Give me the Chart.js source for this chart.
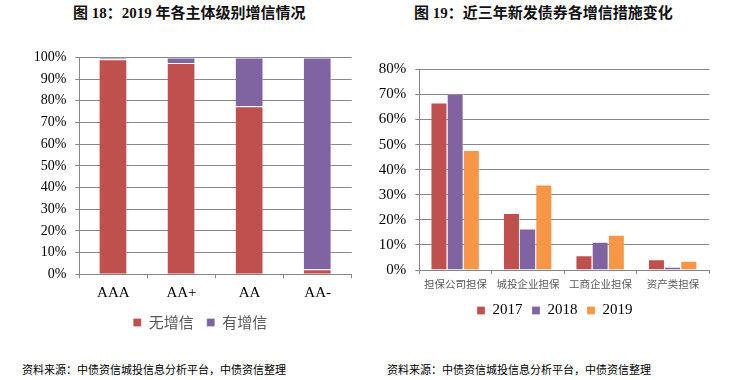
<!DOCTYPE html>
<html><head><meta charset="utf-8">
<script src="https://cdn.jsdelivr.net/npm/chart.js@4"></script>
<style>
html,body{margin:0;padding:0;background:#fff;}
body{width:740px;height:380px;position:relative;overflow:hidden;}
.t{position:absolute;font-family:"Liberation Serif","Noto Sans CJK SC",serif;font-weight:bold;font-size:15px;color:#111;line-height:18px;white-space:nowrap;}
.s{position:absolute;font-family:"Noto Sans CJK SC",sans-serif;font-size:11px;color:#000;line-height:14px;white-space:nowrap;}
canvas{position:absolute;}
</style></head><body>
<div class="t" style="left:73px;top:4px;">图 18：2019 年各主体级别增信情况</div>
<div class="t" style="left:414px;top:4px;">图 19：近三年新发债券各增信措施变化</div>
<canvas id="c1" width="370" height="300" style="left:0;top:40px;"></canvas>
<canvas id="c2" width="370" height="288" style="left:370px;top:40px;"></canvas>
<div class="s" style="left:22px;top:362px;">资料来源：中债资信城投信息分析平台，中债资信整理</div>
<div class="s" style="left:387px;top:362px;">资料来源：中债资信城投信息分析平台，中债资信整理</div>
<script>
// Chart 18 data
const ratings = ['AAA', 'AA+', 'AA', 'AA-'];
const noEnhance = [99.1, 97.4, 77.5, 2.3];
const withEnhance = [0.9, 2.6, 22.5, 97.7];
const leftTicks = [0, 10, 20, 30, 40, 50, 60, 70, 80, 90, 100];

// Chart 19 data
const measures = ['担保公司担保', '城投企业担保', '工商企业担保', '资产类担保'];
const y2017 = [66.8, 22.7, 5.9, 4.3];
const y2018 = [70.4, 16.5, 11.3, 1.3];
const y2019 = [47.8, 34.1, 14.1, 3.7];
const rightTicks = [0, 10, 20, 30, 40, 50, 60, 70, 80];

const RED = '#C0504D', PURPLE = '#8064A2', ORANGE = '#F79646';
const GRID = '#878787';
const edge = 'rgba(255,255,255,0.55)';
const bw = {top: 1, right: 1, left: 0, bottom: 0};

Chart.defaults.animation = false;

function legendShift(dx) {
  return {
    id: 'legendShift',
    afterLayout(chart) {
      const lg = chart.legend;
      if (lg) { lg.left += dx; lg.right += dx; }
    }
  };
}

new Chart(document.getElementById('c1'), {
  type: 'bar',
  data: {
    labels: ratings,
    datasets: [
      {label: '无增信', data: noEnhance, backgroundColor: RED, borderColor: edge, borderWidth: bw, borderSkipped: false, barPercentage: 0.41, categoryPercentage: 1},
      {label: '有增信', data: withEnhance, backgroundColor: PURPLE, borderColor: edge, borderWidth: bw, borderSkipped: false, barPercentage: 0.41, categoryPercentage: 1}
    ]
  },
  plugins: [legendShift(24.4)],
  options: {
    responsive: false, devicePixelRatio: 1,
    layout: {padding: {left: 0, right: 18.3, top: 15.3, bottom: 0}},
    plugins: {
      tooltip: {enabled: false},
      legend: {position: 'bottom', labels: {boxWidth: 8, boxHeight: 8, padding: 13, color: '#595959', font: {family: '"Noto Sans CJK SC"', size: 15}}}
    },
    scales: {
      x: {
        stacked: true,
        afterFit: s => { s.height = 27.7; },
        grid: {drawOnChartArea: false, drawTicks: true, tickLength: 4, color: GRID},
        border: {color: GRID},
        ticks: {padding: 6, color: '#000', font: {family: '"Liberation Serif"', size: 15}}
      },
      y: {
        stacked: true, min: 0, max: 100,
        afterFit: s => { s.width = 79.3; },
        afterBuildTicks: s => { s.ticks = leftTicks.map(v => ({value: v})); },
        grid: {color: GRID, tickLength: 4},
        border: {color: GRID},
        ticks: {padding: 9, color: '#000', font: {family: '"Liberation Serif"', size: 14}, callback: v => v + '%'}
      }
    }
  }
});

new Chart(document.getElementById('c2'), {
  type: 'bar',
  data: {
    labels: measures,
    datasets: [
      {label: '2017', data: y2017, backgroundColor: RED, borderColor: edge, borderWidth: bw, borderSkipped: false, barPercentage: 1, categoryPercentage: 0.67},
      {label: '2018', data: y2018, backgroundColor: PURPLE, borderColor: edge, borderWidth: bw, borderSkipped: false, barPercentage: 1, categoryPercentage: 0.67},
      {label: '2019', data: y2019, backgroundColor: ORANGE, borderColor: edge, borderWidth: bw, borderSkipped: false, barPercentage: 1, categoryPercentage: 0.67}
    ]
  },
  plugins: [legendShift(15.1)],
  options: {
    responsive: false, devicePixelRatio: 1,
    layout: {padding: {left: 0, right: 30.7, top: 29.3, bottom: 0}},
    plugins: {
      tooltip: {enabled: false},
      legend: {position: 'bottom', labels: {boxWidth: 8, boxHeight: 8, padding: 9.5, color: '#000', font: {family: '"Liberation Serif"', size: 15}}}
    },
    scales: {
      x: {
        afterFit: s => { s.height = 23.5; },
        grid: {drawOnChartArea: false, drawTicks: true, tickLength: 4, color: GRID},
        border: {color: GRID},
        ticks: {padding: 4, color: '#595959', font: {family: '"Noto Sans CJK SC"', size: 10.5}}
      },
      y: {
        min: 0, max: 80,
        afterFit: s => { s.width = 49.3; },
        afterBuildTicks: s => { s.ticks = rightTicks.map(v => ({value: v})); },
        grid: {color: GRID, tickLength: 4},
        border: {color: GRID},
        ticks: {padding: 9, color: '#000', font: {family: '"Liberation Serif"', size: 15}, callback: v => v + '%'}
      }
    }
  }
});
</script>
</body></html>
